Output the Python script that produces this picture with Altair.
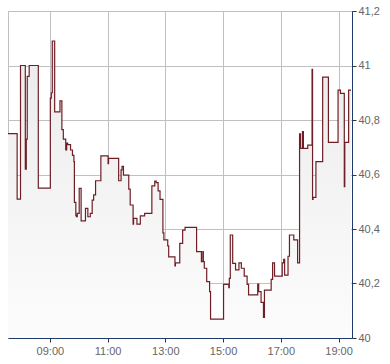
import altair as alt
import pandas as pd

DAY = "2024-01-15"

times = [
    "07:33", "07:52", "07:59", "08:09", "08:11", "08:13", "08:17", "08:36",
    "09:01", "09:03", "09:05", "09:10", "09:21", "09:25", "09:28", "09:33",
    "09:35", "09:37", "09:43", "09:47", "09:50", "09:51", "09:54", "09:55",
    "09:57", "10:01", "10:05", "10:14", "10:19", "10:24", "10:28", "10:31",
    "10:35", "10:46", "11:01", "11:02", "11:23", "11:28", "11:30", "11:33",
    "11:44", "11:47", "11:53", "11:54", "12:01", "12:08", "12:17", "12:32",
    "12:38", "12:41", "12:45", "12:49", "12:55", "12:57", "13:05", "13:07",
    "13:20", "13:21", "13:30", "13:36", "13:41", "14:05", "14:15", "14:18",
    "14:19", "14:21", "14:26", "14:32", "14:34", "15:01", "15:12", "15:13",
    "15:15", "15:20", "15:26", "15:33", "15:38", "15:44", "15:50", "15:53",
    "16:12", "16:14", "16:19", "16:24", "16:26", "16:40", "16:43", "16:47",
    "17:03", "17:06", "17:08", "17:15", "17:18", "17:27", "17:35", "17:39",
    "17:41", "17:45", "17:47", "17:56", "18:05", "18:06", "18:07", "18:13",
    "18:27", "18:39", "18:59", "19:04", "19:12", "19:13", "19:21", "19:26",
]
prices = [
    40.75, 40.51, 41.00, 40.62, 40.73, 40.96, 41.00, 40.55,
    40.88, 40.90, 41.09, 40.83, 40.87, 40.765, 40.73, 40.69,
    40.715, 40.71, 40.69, 40.67, 40.647, 40.498, 40.45, 40.445,
    40.457, 40.549, 40.43, 40.476, 40.445, 40.457, 40.506, 40.525,
    40.577, 40.668, 40.64, 40.659, 40.577, 40.617, 40.63, 40.598,
    40.546, 40.488, 40.418, 40.439, 40.418, 40.448, 40.457, 40.558,
    40.576, 40.57, 40.54, 40.509, 40.386, 40.36, 40.338, 40.298,
    40.265, 40.276, 40.347, 40.396, 40.406, 40.317, 40.28, 40.317,
    40.28, 40.256, 40.207, 40.17, 40.069, 40.197, 40.185, 40.219,
    40.378, 40.274, 40.25, 40.276, 40.256, 40.227, 40.197, 40.158,
    40.198, 40.17, 40.131, 40.076, 40.176, 40.215, 40.276, 40.227,
    40.276, 40.289, 40.231, 40.30, 40.378, 40.36, 40.276, 40.749,
    40.696, 40.757, 40.696, 40.708, 40.986, 40.509, 40.516, 40.647,
    40.957, 40.718, 40.91, 40.898, 40.555, 40.718, 40.91, 40.91,
]
y_ticks = [40.0, 40.2, 40.4, 40.6, 40.8, 41.0, 41.2]
x_tick_hours = [9, 11, 13, 15, 17, 19]

df = pd.DataFrame({
    "t": [f"{DAY}T{t}:00" for t in times],
    "p": prices,
    "base": [40.0] * len(prices),
})


def dt(h, m=0):
    return alt.DateTime(year=2024, month=1, date=15, hours=h, minutes=m)


FONT = "Liberation Sans"
x_enc = alt.X(
    "t:T",
    scale=alt.Scale(domain=[dt(7, 33), dt(19, 28)]),
    axis=alt.Axis(
        values=[dt(h) for h in x_tick_hours],
        format="%H:%M",
        title=None,
        grid=True,
        gridColor="#c0c0c0",
        domainColor="#1d3a6a",
        tickColor="#333333",
        tickSize=4,
        labelColor="#666666",
        labelFontSize=11,
        labelFont=FONT,
        labelPadding=3,
    ),
)
y_scale = alt.Scale(domain=[40.0, 41.2], zero=False, nice=False)
y_enc = alt.Y(
    "p:Q",
    scale=y_scale,
    axis=alt.Axis(
        orient="right",
        values=y_ticks,
        labelExpr="replace(format(datum.value, '.1~f'), '.', ',')",
        title=None,
        grid=True,
        gridColor="#c0c0c0",
        domainColor="#1d3a6a",
        tickColor="#333333",
        tickSize=4,
        labelColor="#666666",
        labelFontSize=11,
        labelFont=FONT,
        labelPadding=2,
    ),
)

area = alt.Chart(df).mark_area(
    interpolate="step-after",
    color=alt.Gradient(
        gradient="linear",
        stops=[
            alt.GradientStop(color="#ebebeb", offset=0),
            alt.GradientStop(color="#fcfcfc", offset=1),
        ],
        x1=0, x2=0, y1=0, y2=1,
    ),
).encode(x=x_enc, y=y_enc, y2="base:Q")

line = alt.Chart(df).mark_line(
    interpolate="step-after", color="#6e1f26", strokeWidth=1.2
).encode(x="t:T", y="p:Q")

chart = (
    alt.layer(area, line)
    .properties(
        width=344,
        height=327,
        autosize=alt.AutoSizeParams(type="none"),
        padding={"left": 8, "top": 11, "right": 38, "bottom": 26},
        background="white",
    )
    .configure_view(stroke="#c0c0c0", strokeWidth=1)
)

chart.save("out.html", embed_options={"renderer": "svg", "actions": False})
